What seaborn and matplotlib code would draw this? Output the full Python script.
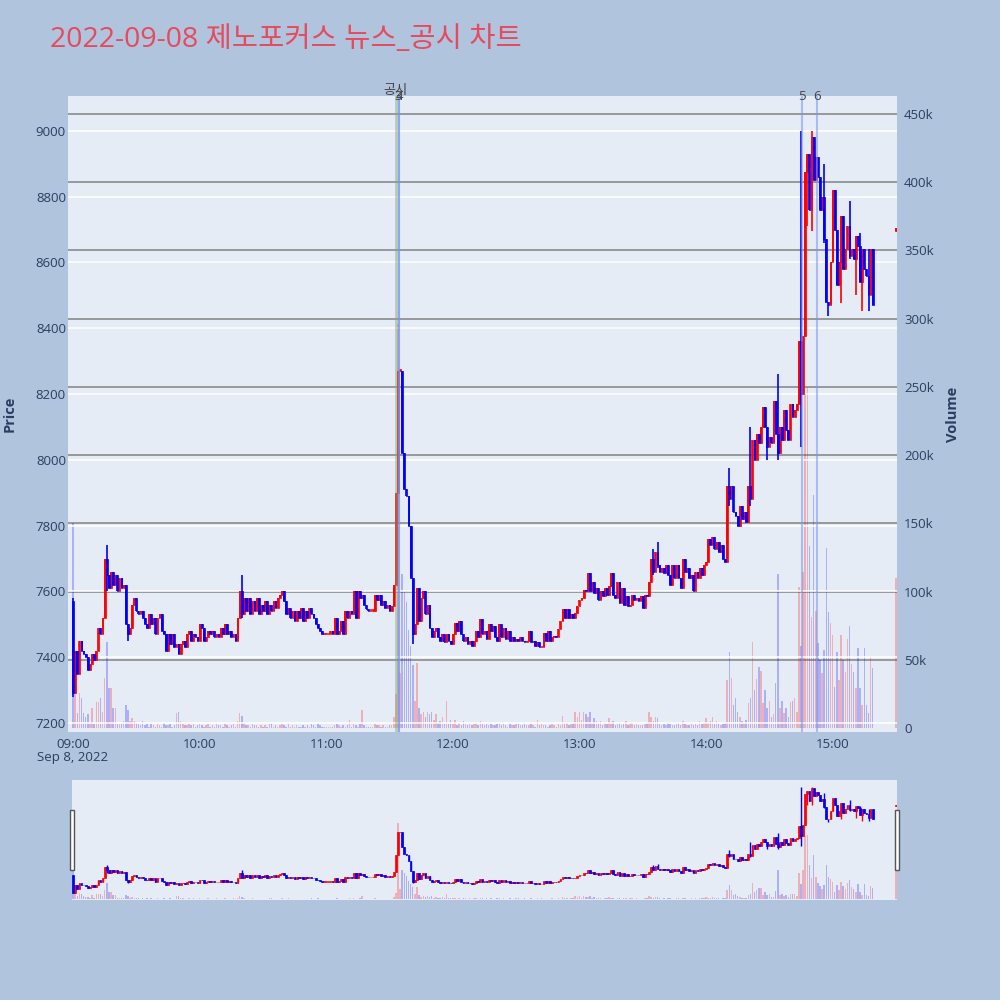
import numpy as np
import pandas as pd
import matplotlib
matplotlib.use("Agg")
import matplotlib.pyplot as plt
import matplotlib.transforms as mtransforms
from matplotlib.patches import Rectangle
import seaborn as sns

# ---------------- data ----------------
title_text = "2022-09-08 제노포커스 뉴스_공시 차트"
session_date_label = "Sep 8, 2022"
first_open = 7570

# 1-minute closes from 09:00 (KRW)
close_prices = [
    7290, 7420, 7350, 7450, 7420, 7410, 7400, 7360, 7380, 7410,
    7390, 7420, 7490, 7470, 7520, 7700, 7650, 7610, 7660, 7620,
    7650, 7600, 7640, 7610, 7620, 7500, 7470, 7490, 7560, 7580,
    7540, 7530, 7540, 7520, 7500, 7490, 7530, 7500, 7520, 7470,
    7520, 7530, 7480, 7470, 7420, 7470, 7440, 7470, 7430, 7440,
    7410, 7440, 7450, 7430, 7470, 7480, 7450, 7470, 7460, 7450,
    7500, 7490, 7450, 7460, 7480, 7470, 7480, 7460, 7470, 7460,
    7490, 7470, 7500, 7470, 7480, 7460, 7470, 7450, 7520, 7600,
    7530, 7580, 7540, 7580, 7530, 7570, 7540, 7580, 7530, 7560,
    7540, 7570, 7530, 7560, 7540, 7570, 7550, 7580, 7590, 7600,
    7570, 7530, 7550, 7520, 7540, 7510, 7540, 7520, 7550, 7510,
    7540, 7520, 7550, 7530, 7520, 7500, 7490, 7480, 7470, 7470,
    7470, 7470, 7480, 7470, 7520, 7470, 7480, 7510, 7470, 7540,
    7520, 7540, 7530, 7600, 7520, 7600, 7580, 7590, 7560, 7545,
    7540, 7540, 7540, 7590, 7575, 7590, 7560, 7570, 7550, 7560,
    7540, 7555, 7620, 7900, 8270, 8270, 8020, 7910, 7890, 7800,
    7640, 7470, 7500, 7610, 7510, 7580, 7600, 7530, 7560, 7490,
    7460, 7480, 7490, 7460, 7450, 7470, 7445, 7470, 7450, 7440,
    7470, 7505, 7480, 7510, 7470, 7450, 7460, 7440, 7450, 7435,
    7450, 7480, 7460, 7515, 7470, 7480, 7455, 7500, 7480, 7495,
    7460, 7450, 7500, 7460, 7490, 7455, 7480, 7450, 7460, 7450,
    7455, 7450, 7460, 7450, 7445, 7450, 7480, 7445, 7450, 7435,
    7445, 7430, 7430, 7475, 7450, 7480, 7450, 7460, 7465, 7460,
    7485, 7510, 7545, 7520, 7545, 7520, 7530, 7520, 7535, 7555,
    7575, 7580, 7605, 7600, 7655, 7600, 7630, 7595, 7610, 7575,
    7600, 7585, 7610, 7590, 7615, 7655, 7590, 7580, 7630, 7565,
    7610, 7560, 7585, 7555, 7560, 7590, 7575, 7580, 7570, 7585,
    7550, 7590, 7585, 7630, 7700, 7660, 7720, 7680, 7660, 7670,
    7655, 7680, 7650, 7620, 7680, 7640, 7680, 7640, 7610, 7700,
    7660, 7670, 7640, 7650, 7600, 7660, 7640, 7670, 7650, 7680,
    7690, 7760, 7740, 7765, 7730, 7750, 7720, 7740, 7700, 7690,
    7920, 7880, 7920, 7840, 7830, 7800, 7860, 7820, 7840, 7810,
    7920, 7880, 8060, 8000, 8080, 8050, 8100, 8160, 8100, 8040,
    8070, 8050, 8180, 8080, 8020, 8100, 8060, 8150, 8090, 8060,
    8170, 8130, 8150, 8170, 8360, 8200, 8377, 8875, 8930, 8760,
    8980, 8850, 8920, 8860, 8760, 8800, 8670, 8480, 8470, 8600,
    8820, 8700, 8530, 8600, 8740, 8580, 8640, 8710, 8620, 8640,
    8610, 8680, 8650, 8540, 8640, 8580, 8560, 8500, 8640, 8470,
]

# 1-minute volumes (thousand shares)
volumes_k = [
    150, 26, 11, 26, 22, 11, 8, 10, 4, 15,
    3, 19, 19, 22, 12, 37, 63, 29, 29, 15,
    15, 3, 3, 4, 5, 17, 13, 5, 7, 5,
    4, 3, 2, 5, 2, 3, 1, 3, 2, 1,
    3, 2, 1, 4, 2, 2, 3, 1, 2, 11,
    12, 5, 3, 2, 2, 3, 2, 3, 1, 2,
    3, 2, 1, 2, 3, 1, 2, 1, 3, 2,
    2, 1, 3, 2, 1, 2, 4, 1, 5, 11,
    9, 4, 2, 2, 1, 3, 2, 2, 1, 2,
    1, 2, 1, 3, 4, 1, 2, 1, 2, 3,
    2, 1, 3, 1, 2, 1, 2, 1, 1, 2,
    1, 2, 1, 3, 2, 1, 3, 2, 1, 1,
    1, 1, 1, 1, 2, 3, 2, 1, 2, 1,
    2, 6, 1, 3, 2, 1, 3, 13, 2, 1,
    1, 1, 1, 3, 2, 2, 1, 2, 1, 1,
    2, 2, 8, 25, 296, 40, 113, 100, 92, 72,
    60, 46, 20, 48, 15, 10, 12, 8, 12, 10,
    12, 6, 10, 4, 5, 8, 3, 20, 3, 6,
    3, 6, 2, 4, 2, 5, 3, 2, 4, 2,
    3, 4, 2, 5, 3, 2, 3, 2, 3, 2,
    2, 3, 4, 2, 3, 2, 1, 3, 2, 2,
    3, 4, 2, 2, 3, 2, 2, 3, 2, 1,
    6, 2, 3, 2, 2, 1, 2, 3, 2, 1,
    3, 2, 9, 3, 4, 2, 3, 4, 12, 8,
    12, 6, 12, 10, 8, 12, 4, 7, 5, 3,
    5, 2, 4, 3, 7, 3, 5, 2, 3, 4,
    2, 3, 5, 2, 3, 4, 2, 3, 2, 2,
    2, 3, 4, 12, 8, 5, 8, 7, 3, 2,
    3, 2, 4, 3, 2, 2, 3, 4, 2, 5,
    3, 2, 2, 4, 2, 3, 2, 5, 3, 4,
    7, 4, 5, 8, 3, 5, 4, 2, 3, 4,
    35, 56, 37, 17, 22, 12, 8, 5, 4, 6,
    18, 22, 63, 28, 36, 45, 42, 18, 28, 15,
    20, 8, 10, 33, 113, 15, 20, 11, 15, 8,
    19, 20, 22, 12, 103, 60, 114, 245, 250, 133,
    81, 171, 86, 62, 50, 40, 57, 132, 85, 77,
    68, 30, 56, 35, 68, 50, 41, 65, 75, 47,
    41, 29, 59, 29, 17, 59, 17, 11, 53, 44,
]

# closing auction (15:30)
closing_time = "15:30"
closing_open = 8695
closing_close = 8705
closing_volume_k = 110

# candles with longer shadows: minute index, high, low
wick_minutes = [0, 16, 26, 80, 161, 275, 277, 311, 321, 329, 334, 345, 348, 350, 356, 358, 364, 368, 371, 373, 374, 377]
wick_highs =   [7580, 7740, 7500, 7650, 7500, 7730, 7750, 7974, 8100, 8100, 8260, 9000, 8930, 9000, 8900, 8480, 8740, 8787, 8680, 8690, 8640, 8640]
wick_lows =    [7280, 7600, 7450, 7520, 7440, 7650, 7670, 7860, 7860, 8000, 8000, 8040, 8710, 8696, 8660, 8436, 8477, 8610, 8500, 8540, 8453, 8453]

price_ticks = [7200, 7400, 7600, 7800, 8000, 8200, 8400, 8600, 8800, 9000]
volume_ticks_k = [0, 50, 100, 150, 200, 250, 300, 350, 400, 450]
volume_tick_labels = ["0", "50k", "100k", "150k", "200k", "250k", "300k", "350k", "400k", "450k"]
time_tick_labels = ["09:00", "10:00", "11:00", "12:00", "13:00", "14:00", "15:00"]

event_labels = ["공시", "3", "4", "5", "6"]
event_times = ["11:33", "11:34", "11:34", "14:45", "14:52"]
event_colors = ["#7fae7f", "#7b93f0", "#7b93f0", "#7b93f0", "#7b93f0"]

# ---------------- derived table ----------------
def to_minute(t):
    h, mm = t.split(":")
    return (int(h) - 9) * 60 + int(mm)

minutes = list(range(len(close_prices)))
opens = [first_open] + close_prices[:-1]
highs = [max(o, c) for o, c in zip(opens, close_prices)]
lows = [min(o, c) for o, c in zip(opens, close_prices)]
for m, h, l in zip(wick_minutes, wick_highs, wick_lows):
    highs[m] = max(highs[m], h)
    lows[m] = min(lows[m], l)

minutes.append(to_minute(closing_time))
opens.append(closing_open)
closes = close_prices + [closing_close]
highs.append(closing_close)
lows.append(closing_open)
vols = volumes_k + [closing_volume_k]

df = pd.DataFrame({"minute": minutes, "open": opens, "close": closes,
                   "high": highs, "low": lows, "volume": np.array(vols) * 1000})
df["dir"] = np.where(df["close"] >= df["open"], "up", "down")
UP, DOWN = "#FF0000", "#0000FF"
palette = {"up": UP, "down": DOWN}

# ---------------- figure ----------------
sns.set_style("white")
plt.rcParams["font.family"] = ["Open Sans", "Noto Sans CJK KR", "DejaVu Sans"]
TXT = "#2a3f5f"

fig = plt.figure(figsize=(10, 10), dpi=100)
fig.patch.set_facecolor("#B0C4DE")

def px_rect(x0, y0, x1, y1):
    return [x0 / 1000, 1 - y1 / 1000, (x1 - x0) / 1000, (y1 - y0) / 1000]

PRICE_LIM = (7172.6, 9106)
VOL_LIM = (-2900, 463000)

def draw_candles(ax, body_w=0.8, wick_lw=1.2, edge_lw=0.5):
    for d, col in palette.items():
        sub = df[df["dir"] == d]
        ax.vlines(sub["minute"], sub["low"], sub["high"], color=col, lw=wick_lw, zorder=3)
        bottom = np.minimum(sub["open"], sub["close"])
        height = np.maximum((sub["close"] - sub["open"]).abs(), 5)
        ax.bar(sub["minute"], height, bottom=bottom, width=body_w, color=col,
               edgecolor=col, linewidth=edge_lw, zorder=3)

# main volume axes (bottom) + price axes (top)
ax_vol = fig.add_axes(px_rect(68, 96, 897, 732))
ax_p = fig.add_axes(px_rect(68, 96, 897, 732), sharex=ax_vol)
ax_p.set_zorder(ax_vol.get_zorder() + 1)
ax_p.patch.set_visible(False)
ax_vol.set_facecolor("#E5ECF6")

sns.barplot(data=df, x="minute", y="volume", hue="dir", palette=palette,
            native_scale=True, dodge=False, width=0.7, alpha=0.25, saturation=1,
            errorbar=None, legend=False, ax=ax_vol, linewidth=0)

ax_vol.set_ylim(*VOL_LIM)
ax_vol.set_yticks([v * 1000 for v in volume_ticks_k])
ax_vol.set_yticklabels(volume_tick_labels)
ax_vol.yaxis.tick_right()
ax_vol.yaxis.set_label_position("right")
ax_vol.set_xlabel("")
ax_vol.set_ylabel("")
ax_vol.grid(False)
for v in volume_ticks_k[1:]:
    ax_vol.axhline(v * 1000, color="#8a8a8a", lw=1.2, zorder=0.5)
ax_vol.tick_params(axis="y", length=0, pad=5, labelsize=9.5, labelcolor=TXT)
ax_vol.tick_params(axis="x", length=0, labelbottom=False)

ax_p.set_ylim(*PRICE_LIM)
ax_p.set_yticks(price_ticks)
ax_p.set_yticklabels([str(p) for p in price_ticks])
for p in price_ticks:
    ax_p.axhline(p, color="white", lw=1.1, zorder=0.5)
draw_candles(ax_p)

tick_minutes = [to_minute(t) for t in time_tick_labels]
ax_p.set_xticks(tick_minutes)
ax_p.set_xticklabels(time_tick_labels)
ax_p.set_xlim(-2.4, 390.5)
ax_p.tick_params(axis="y", length=0, pad=1.5, labelsize=9.5, labelcolor=TXT)
ax_p.tick_params(axis="x", length=0, pad=4, labelsize=9.5, labelcolor=TXT)
ax_p.grid(False)
for a in (ax_p, ax_vol):
    for s in a.spines.values():
        s.set_visible(False)

# event lines and labels
blend = mtransforms.blended_transform_factory(ax_p.transData, ax_p.transAxes)
label_shift = {"3": -0.2, "4": 0.3}
for lab, t, col in zip(event_labels, event_times, event_colors):
    m = to_minute(t)
    if lab == "공시":
        ax_p.axvline(m, color=col, lw=2, alpha=0.5, zorder=6)
        ax_p.text(m, 1.0094, lab, transform=blend, ha="center", va="center",
                  fontsize=9.5, color="#444444", zorder=7, clip_on=False)
    else:
        m = m + 0.5
        ax_p.axvline(m, color=col, lw=1.5, alpha=0.55, zorder=6)
        ax_p.text(m + label_shift.get(lab, 0.0), 0.9985, lab, transform=blend,
                  ha="center", va="center", fontsize=9.5, color="#444444",
                  zorder=7, clip_on=False)

# axis titles and title
fig.text(50 / 1000, 1 - 40 / 1000, title_text, fontsize=20.5, color="#E64A5F",
         ha="left", va="center")
fig.text(10 / 1000, 1 - 414 / 1000, "Price", rotation=90, fontsize=10.5,
         fontweight="bold", color=TXT, ha="center", va="center")
fig.text(953 / 1000, 1 - 414 / 1000, "Volume", rotation=90, fontsize=10.5,
         fontweight="bold", color=TXT, ha="center", va="center")
fig.text(73 / 1000, 1 - 758 / 1000, session_date_label, fontsize=9.5, color=TXT,
         ha="center", va="center")

# range slider
ax_sv = fig.add_axes(px_rect(72, 780, 897, 900))
ax_sp = fig.add_axes(px_rect(72, 780, 897, 900), sharex=ax_sv)
ax_sp.set_zorder(ax_sv.get_zorder() + 1)
ax_sp.patch.set_visible(False)
ax_sv.set_facecolor("#E5ECF6")
for d, col in palette.items():
    sub = df[df["dir"] == d]
    ax_sv.bar(sub["minute"], sub["volume"], width=0.7, color=col, alpha=0.25, linewidth=0)
ax_sv.set_ylim(*VOL_LIM)
ax_sp.set_ylim(*PRICE_LIM)
draw_candles(ax_sp, body_w=0.8, wick_lw=1.0, edge_lw=0.5)
ax_sp.set_xlim(-0.5, 390.5)
for a in (ax_sv, ax_sp):
    a.set_xticks([])
    a.set_yticks([])
    for s in a.spines.values():
        s.set_visible(False)

for x0 in (69.5, 894.5):
    fig.add_artist(Rectangle((x0 / 1000, 1 - 870 / 1000), 4 / 1000, 60 / 1000,
                             transform=fig.transFigure, facecolor="white",
                             edgecolor="#555555", lw=1, zorder=10))

fig.savefig("out.png", dpi=100, facecolor=fig.get_facecolor())
